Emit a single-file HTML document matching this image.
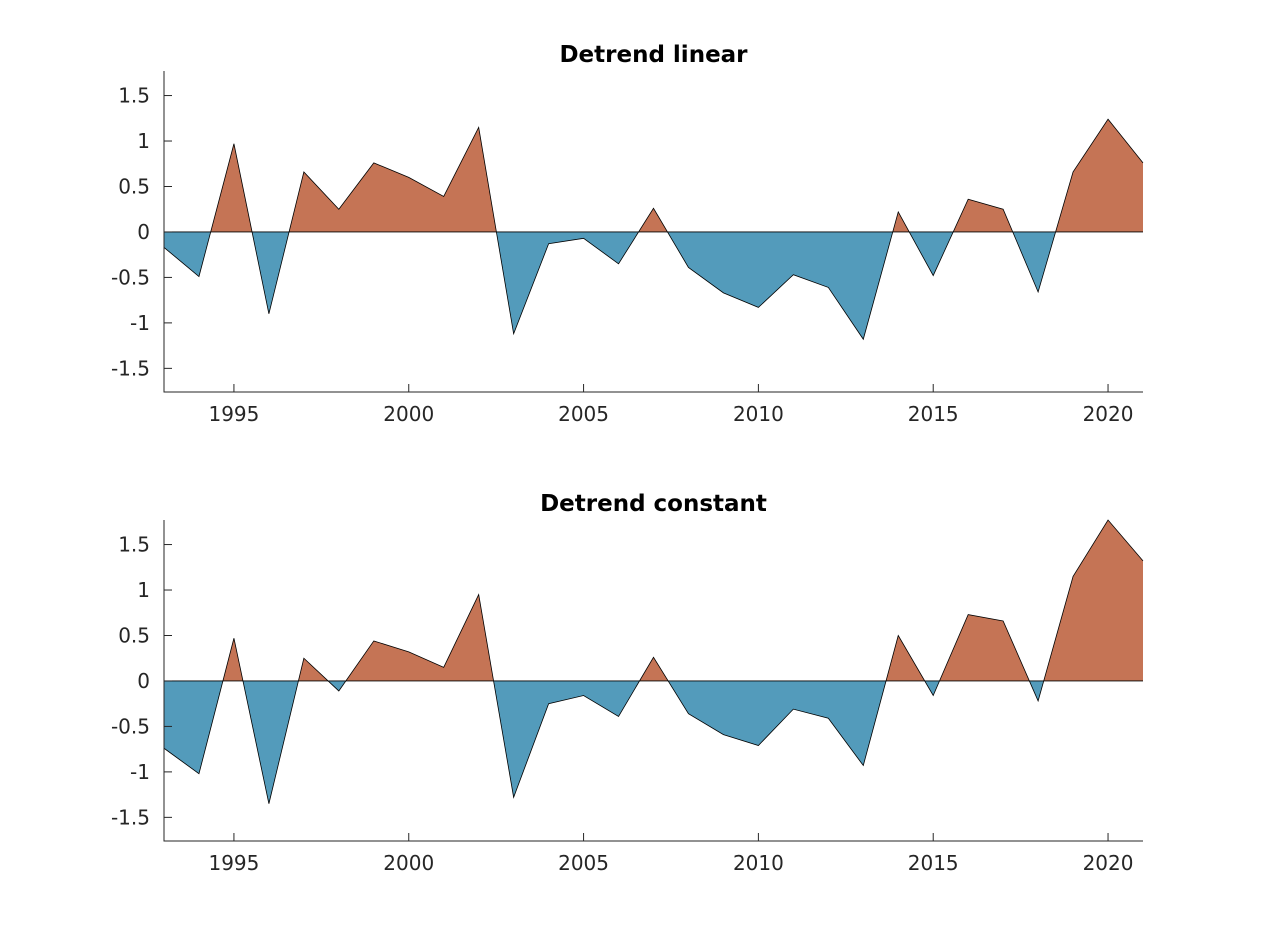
<!DOCTYPE html>
<html><head><meta charset="utf-8"><style>
body{margin:0;background:#fff;}
svg{display:block;font-family:"DejaVu Sans","Liberation Sans",sans-serif;}
</style></head><body>
<svg id="chart" width="1263" height="947"></svg>
<script>
const years = [1993,1994,1995,1996,1997,1998,1999,2000,2001,2002,2003,2004,2005,2006,2007,2008,2009,2010,2011,2012,2013,2014,2015,2016,2017,2018,2019,2020,2021];
const linearValues = [-0.17,-0.49,0.97,-0.90,0.66,0.25,0.76,0.60,0.39,1.15,-1.12,-0.13,-0.07,-0.35,0.26,-0.39,-0.67,-0.83,-0.47,-0.61,-1.18,0.22,-0.48,0.36,0.25,-0.66,0.66,1.24,0.76];
const constantValues = [-0.74,-1.02,0.47,-1.35,0.25,-0.11,0.44,0.32,0.15,0.95,-1.28,-0.25,-0.16,-0.39,0.26,-0.36,-0.59,-0.71,-0.31,-0.41,-0.93,0.50,-0.16,0.73,0.66,-0.22,1.15,1.77,1.32];
const xTicks = [1995,2000,2005,2010,2015,2020];
const yTicks = [-1.5,-1,-0.5,0,0.5,1,1.5];
const yTickLabels = ["-1.5","-1","-0.5","0","0.5","1","1.5"];
const titles = ["Detrend linear","Detrend constant"];

const NS="http://www.w3.org/2000/svg";
const svg=document.getElementById('chart');
function mk(tag,attrs,parent){const e=document.createElementNS(NS,tag);for(const k in attrs)e.setAttribute(k,attrs[k]);(parent||svg).appendChild(e);return e;}

function panel(idx,top,values){
  const L=164,R=1143,T=top,B=top+321,ymin=-1.76,ymax=1.77;
  const x=v=>L+(v-1993)/(2021-1993)*(R-L);
  const y=v=>B-(v-ymin)/(ymax-ymin)*(B-T);
  const g=mk('g',{});
  
  
  const y0=y(0);
  const cid='c'+idx;
  const defs=mk('defs',{},g);
  const cp1=mk('clipPath',{id:cid+'p'},defs); mk('rect',{x:L,y:T-10,width:R-L,height:y0-T+10},cp1);
  const cp2=mk('clipPath',{id:cid+'n'},defs); mk('rect',{x:L,y:y0,width:R-L,height:B-y0},cp2);
  let pts=years.map((yr,i)=>x(yr).toFixed(2)+','+y(values[i]).toFixed(2));
  const area=x(years[0])+','+y0+' '+pts.join(' ')+' '+x(years[years.length-1])+','+y0;
  const pos=mk('polygon',{points:area,fill:'#c57455','clip-path':'url(#'+cid+'p)'},g);
  
  
  const neg=mk('polygon',{points:area,fill:'#539bbb','clip-path':'url(#'+cid+'n)'},g);
  
  
  const line=mk('polyline',{points:pts.join(' '),fill:'none',stroke:'#000','stroke-width':0.8},g);
  
  
  const zl=mk('line',{x1:L,x2:R,y1:y0,y2:y0,stroke:'#000','stroke-width':0.8},g);
  
  
  const ax=mk('path',{d:`M${L},${T} V${B} H${R}`,fill:'none',stroke:'#262626','stroke-width':1},g);
  
  
  xTicks.forEach(t=>{
    mk('line',{x1:x(t),x2:x(t),y1:B,y2:B-8,stroke:'#262626'},g);
    const tx=mk('text',{x:x(t),y:B+29,'text-anchor':'middle','font-size':20,fill:'#262626'},g);
    tx.textContent=t;
    
    
  });
  yTicks.forEach((t,i)=>{
    mk('line',{x1:L,x2:L+8,y1:y(t),y2:y(t),stroke:'#262626'},g);
    const tx=mk('text',{x:L-14,y:y(t)+7,'text-anchor':'end','font-size':20,fill:'#262626'},g);
    tx.textContent=yTickLabels[i];
    
    
  });
  const tt=mk('text',{x:(L+R)/2,y:T-9,'text-anchor':'middle','font-size':23,'font-weight':'bold',fill:'#000'},g);
  tt.textContent=titles[idx];
  
  
}
panel(0,71,linearValues);
panel(1,520,constantValues);
</script>
</body></html>
